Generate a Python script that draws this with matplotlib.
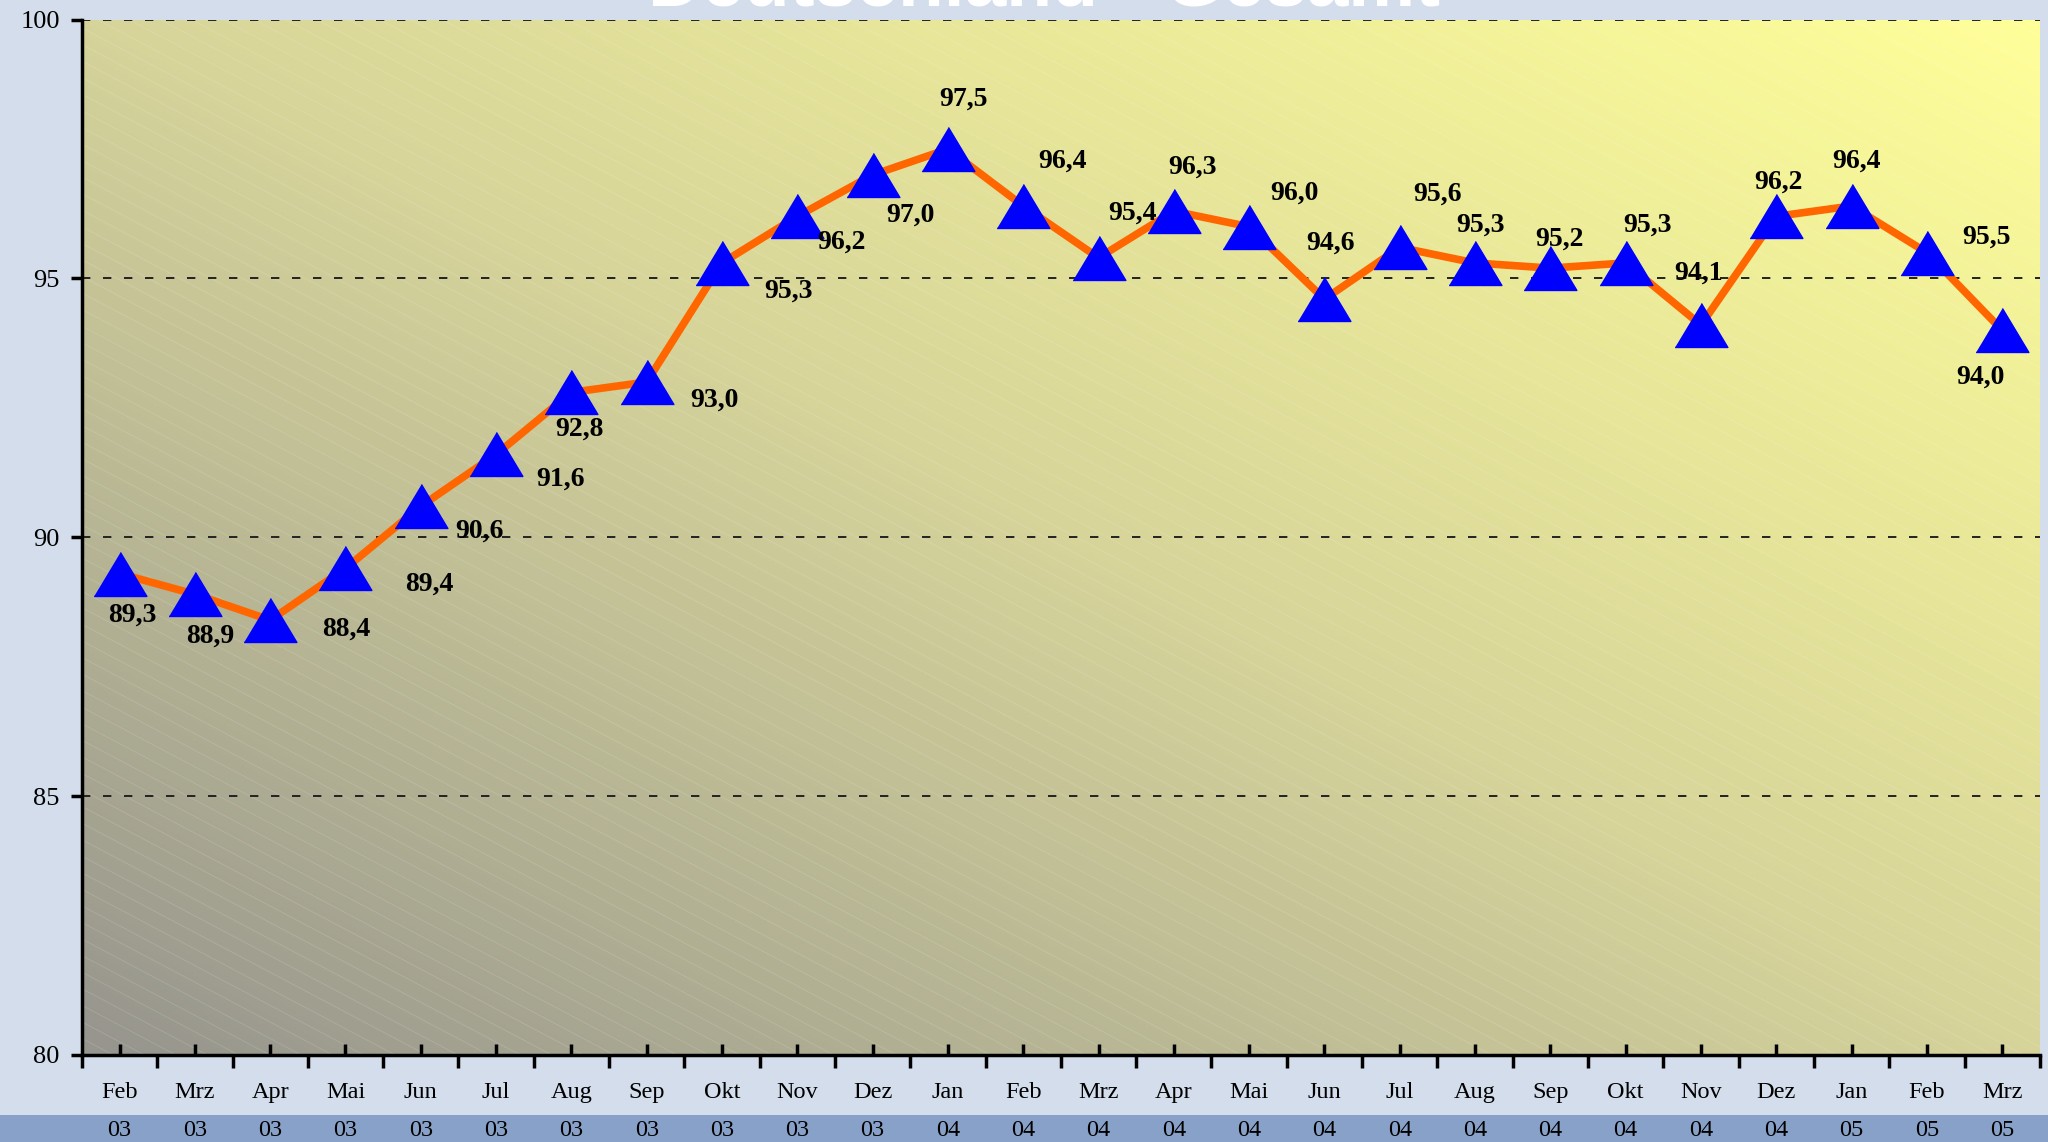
import numpy as np
import matplotlib.pyplot as plt
from matplotlib.patches import Rectangle
from matplotlib.colors import LinearSegmentedColormap
from matplotlib.collections import LineCollection
import matplotlib.transforms as mtransforms

# data
months = ['Feb', 'Mrz', 'Apr', 'Mai', 'Jun', 'Jul', 'Aug', 'Sep', 'Okt', 'Nov', 'Dez', 'Jan',
          'Feb', 'Mrz', 'Apr', 'Mai', 'Jun', 'Jul', 'Aug', 'Sep', 'Okt', 'Nov', 'Dez', 'Jan',
          'Feb', 'Mrz']
years = ['03'] * 11 + ['04'] * 12 + ['05'] * 3
values = [89.3, 88.9, 88.4, 89.4, 90.6, 91.6, 92.8, 93.0, 95.3, 96.2, 97.0, 97.5,
          96.4, 95.4, 96.3, 96.0, 94.6, 95.6, 95.3, 95.2, 95.3, 94.1, 96.2, 96.4,
          95.5, 94.0]
yticks = [80, 85, 90, 95, 100]
title = 'Deutschland - Gesamt'

# label offsets (reference pixels) relative to each marker, as placed in the original
label_offsets = [(10, -32), (12, -32), (58, -7), (64, -12), (45, -19), (49, -19),
                 (6, -28), (52, -14), (51, -22), (34, -20), (29, -31), (12, 38),
                 (30, 34), (26, 34), (14, 34), (35, 26), (5, 43), (29, 41),
                 (4, 29), (7, 22), (17, 29), (-2, 40), (2, 26), (4, 34),
                 (46, 12), (-17, -36)]

serif = ['Liberation Serif', 'DejaVu Serif']

fig = plt.figure(figsize=(20.48, 11.42), dpi=100, facecolor='#D3DDEB')
ax = fig.add_axes([0.040, 0.0762, 0.956, 0.9066])

# blue band at the bottom of the figure (behind the axes texts)
fig.patches.append(Rectangle((0, 0), 1, 27 / 1142, transform=fig.transFigure,
                             facecolor='#88A1C8', edgecolor='none', zorder=-1))

n = len(values)
x = np.arange(n)
ax.set_xlim(-0.5, n - 0.5)
ax.set_ylim(80, 100)

# diagonal gradient background
cmap = LinearSegmentedColormap.from_list('bg', ['#96958E', '#D6D49A', '#FFFF99'])
gx, gy = np.meshgrid(np.linspace(0, 1, 300), np.linspace(0, 1, 300))
grad = (gx + gy) / 2
ax.imshow(grad, cmap=cmap, origin='lower', aspect='auto', extent=(0, 1, 0, 1),
          transform=ax.transAxes, zorder=0)

# faint diagonal stripes
lc = LineCollection([[(c, 1), (c + 1, 0)] for c in np.arange(-1.0, 1.0, 0.016)],
                    colors='white', alpha=0.15, linewidths=0.6, transform=ax.transAxes,
                    zorder=0.5)
lc.set_clip_path(Rectangle((0, 0), 1, 1, transform=ax.transAxes))
ax.add_collection(lc)

# grid lines
for yv in yticks[1:]:
    ax.axhline(yv, color='#222222', lw=1.4, dashes=(4.3, 6.5), zorder=1)

# the series
ax.plot(x, values, color='#FF6600', lw=5.5, zorder=2)
tri = [(-0.6, -0.5), (0.6, -0.5), (0.0, 0.5)]
ax.plot(x, values, ls='none', marker=tri, ms=38, color='#0000FF', zorder=3)

for xi, v, (dx, dy) in zip(x, values, label_offsets):
    ax.annotate(f'{v:.1f}'.replace('.', ','), (xi, v), xytext=(dx * 0.94, dy * 0.94),
                textcoords='offset points', ha='center', va='center',
                fontsize=20, fontweight='bold', family=serif, zorder=4)

# axes styling
for s in ['top', 'right']:
    ax.spines[s].set_visible(False)
for s in ['left', 'bottom']:
    ax.spines[s].set_linewidth(2.5)
    ax.spines[s].set_zorder(5)

ax.set_yticks(yticks)
ax.set_yticklabels([str(t) for t in yticks], family=serif, fontsize=19)
ax.tick_params(axis='y', direction='out', length=8, width=2.5, pad=8)

ax.set_xticks(x)
ax.set_xticklabels([])
ax.tick_params(axis='x', which='major', direction='in', length=8, width=2.5)
ax.set_xticks(np.arange(-0.5, n, 1), minor=True)
ax.tick_params(axis='x', which='minor', direction='out', length=9, width=2.5)

trans = mtransforms.blended_transform_factory(ax.transData, ax.transAxes)
for xi, m, yr in zip(x, months, years):
    ax.text(xi, -0.0367, m, transform=trans, ha='center', va='center',
            family=serif, fontsize=17.5)
    ax.text(xi, -0.0734, yr, transform=trans, ha='center', va='center',
            family=serif, fontsize=17.5)

# title, cut off at the top like in the original
fig.text(0.510, 1 - 5 / 1142, title, ha='center', va='baseline', color='white',
         fontsize=54, fontweight='bold', family=['Liberation Sans', 'DejaVu Sans'])

fig.savefig('out.png', dpi=100, facecolor=fig.get_facecolor())
